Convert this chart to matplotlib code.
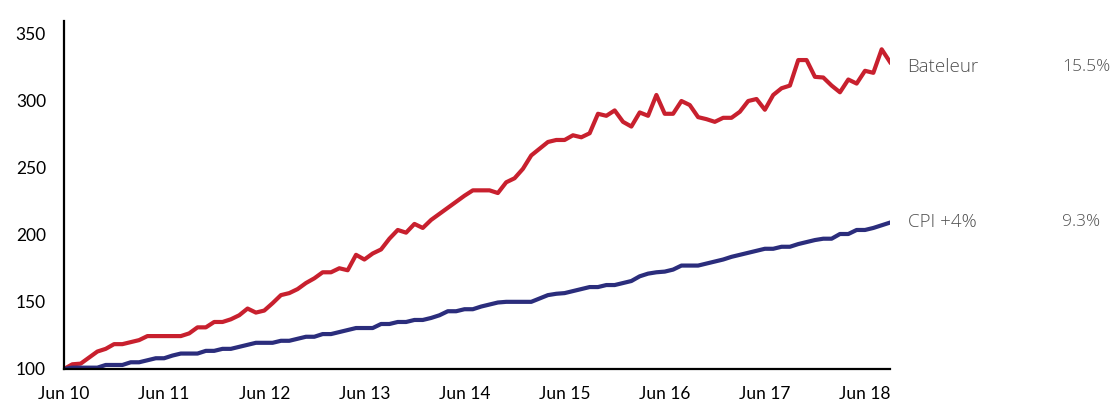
import matplotlib.pyplot as plt
import numpy as np

# monthly index values, Jun 10 .. Sep 18 (base 100)
bateleur = [
    100, 103.5, 104, 108.5, 113, 115, 118.5, 118.5, 120, 121.5, 124.5, 124.5,
    124.5, 124.5, 124.5, 126.5, 131, 131, 135, 135, 137, 140, 145, 142,
    143.5, 149, 155, 156.5, 159.5, 164, 167.5, 172, 172, 175, 173.5, 185,
    181.5, 186, 189, 197, 203.5, 201.5, 208, 205, 211, 215.5, 220, 224.5,
    229, 233, 233, 233, 231, 239, 242, 249, 259, 264, 269, 270.5,
    270.5, 274, 272.5, 275.5, 290, 288.5, 292.5, 284, 280.5, 291, 288.5, 304,
    290, 290, 299.5, 296.5, 287.5, 286, 284, 287, 287, 291.5, 299.5, 301,
    293, 304, 309, 311, 330, 330, 317.5, 317, 311, 306, 315.5, 312.5,
    322, 320.5, 338, 328.5,
]
cpi = [
    100, 101, 101, 101, 101, 103, 103, 103, 105, 105, 106.5, 108,
    108, 110, 111.5, 111.5, 111.5, 113.5, 113.5, 115, 115, 116.5, 118, 119.5,
    119.5, 119.5, 121, 121, 122.5, 124, 124, 126, 126, 127.5, 129, 130.5,
    130.5, 130.5, 133.5, 133.5, 135, 135, 136.5, 136.5, 138, 140, 143, 143,
    144.5, 144.5, 146.5, 148, 149.5, 150, 150, 150, 150, 152.5, 155, 156,
    156.5, 158, 159.5, 161, 161, 162.5, 162.5, 164, 165.5, 169, 171, 172,
    172.5, 174, 177, 177, 177, 178.5, 180, 181.5, 183.5, 185, 186.5, 188,
    189.5, 189.5, 191, 191, 193, 194.5, 196, 197, 197, 200.5, 200.5, 203.5,
    203.5, 205, 207, 209,
]
tick_labels = ["Jun 10", "Jun 11", "Jun 12", "Jun 13", "Jun 14",
               "Jun 15", "Jun 16", "Jun 17", "Jun 18"]
series_names = ["Bateleur", "CPI +4%"]
returns = ["15.5%", "9.3%"]

plt.rcParams['font.family'] = ['Lato', 'DejaVu Sans']

fig = plt.figure(figsize=(11.11, 4.05), dpi=100)
ax = fig.add_axes([0.0576, 0.0889, 0.7435, 0.859])

months = np.arange(len(bateleur))
ax.plot(months, bateleur, color="#C8202E", lw=3, solid_joinstyle="round")
ax.plot(months, cpi, color="#2B2D7C", lw=3, solid_joinstyle="round")

ax.set_xlim(0, 99)
ax.set_ylim(100, 359)
ax.set_xticks(np.arange(0, 97, 12))
ax.set_xticklabels(tick_labels)
ax.set_yticks([100, 150, 200, 250, 300, 350])
ax.tick_params(axis="both", length=0, labelsize=12.5, colors="black")
ax.tick_params(axis="x", pad=12)
ax.tick_params(axis="y", pad=13)

for side in ["top", "right"]:
    ax.spines[side].set_visible(False)
for side in ["left", "bottom"]:
    ax.spines[side].set_linewidth(1.6)
    ax.spines[side].set_color("black")

label_y = [324.5, 209.5]
for name, ret, y in zip(series_names, returns, label_y):
    ax.text(101.1, y, name, fontsize=13.5, color="#505050", va="center",
            ha="left", clip_on=False, fontweight="light",
            family=["Open Sans", "DejaVu Sans"])
    ax.text(119.6, y, ret, fontsize=12.5, color="#505050", va="center",
            ha="left", clip_on=False, fontweight="light",
            family=["Open Sans", "DejaVu Sans"])

fig.savefig("out.png", dpi=100)
